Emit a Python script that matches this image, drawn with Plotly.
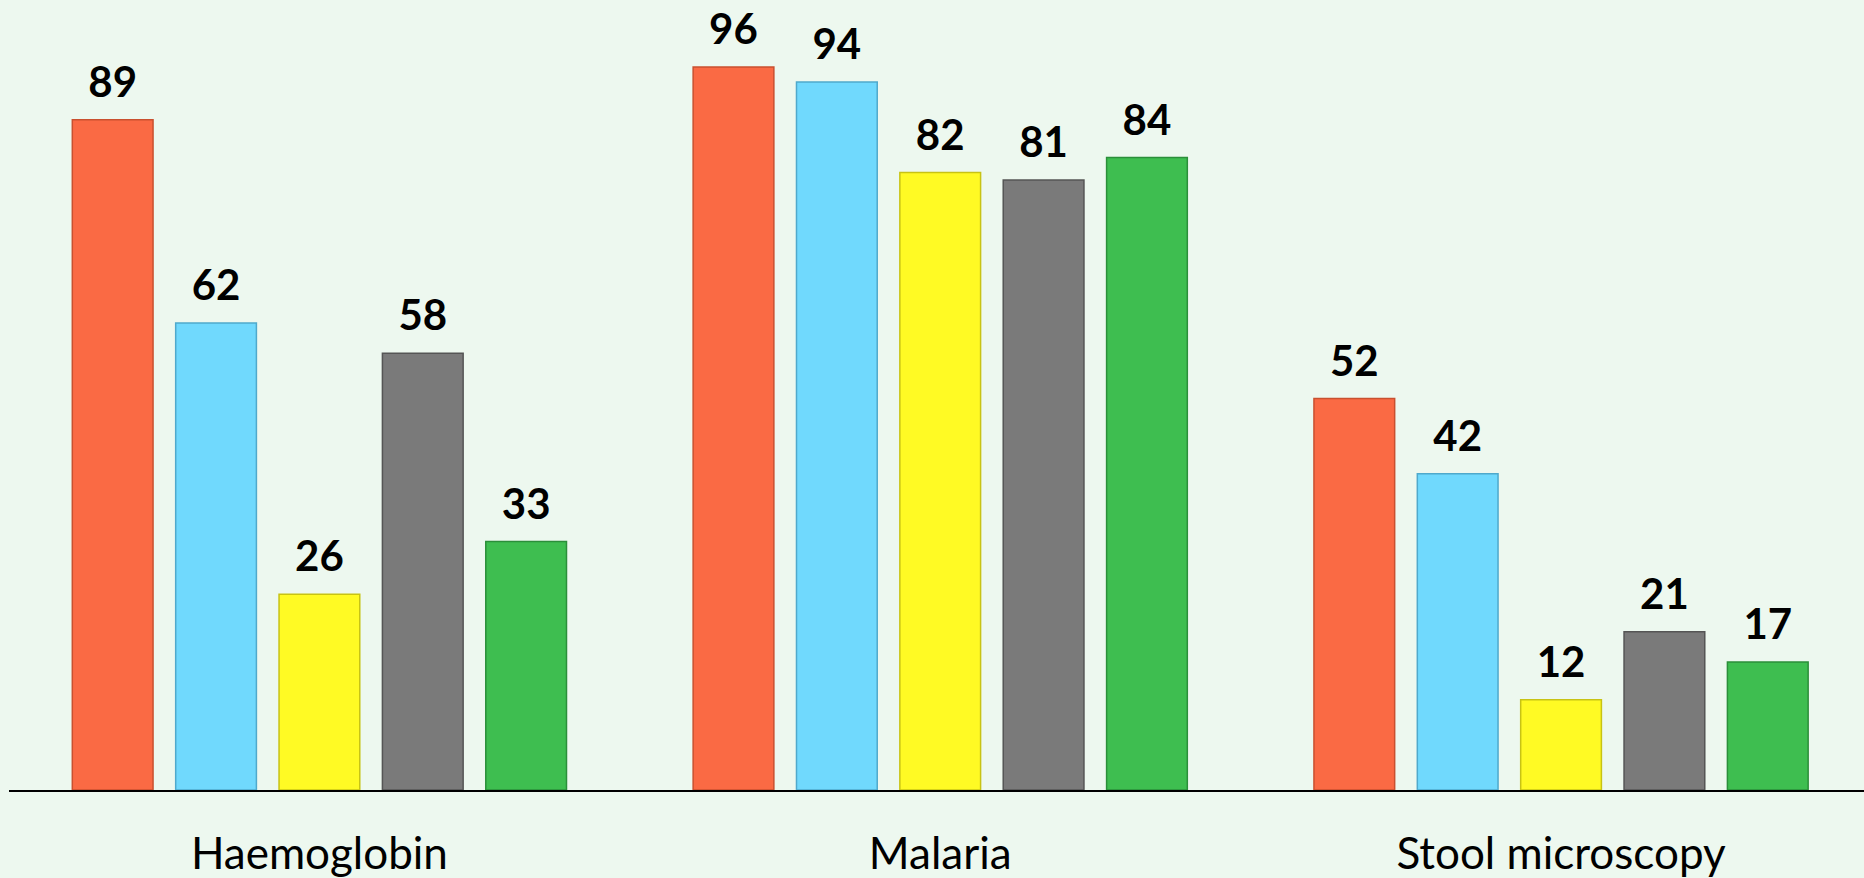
import plotly.graph_objects as go

# data
tests = ["Haemoglobin", "Malaria", "Stool microscopy"]
series_names = ["Series 1", "Series 2", "Series 3", "Series 4", "Series 5"]
series_1 = [89, 96, 52]
series_2 = [62, 94, 42]
series_3 = [26, 82, 12]
series_4 = [58, 81, 21]
series_5 = [33, 84, 17]

colors = ["#FA6A44", "#70D9FD", "#FFFA24", "#7A7A7A", "#3EBE50"]
edges = ["#C9502F", "#4FA9CC", "#C8C314", "#555555", "#2B8F3A"]

all_series = [series_1, series_2, series_3, series_4, series_5]

fig = go.Figure()

# bars
for name, vals, col, edge in zip(series_names, all_series, colors, edges):
    fig.add_trace(go.Bar(
        x=tests, y=vals, name=name, offsetgroup=name,
        marker=dict(color=col, line=dict(color=edge, width=1.5)),
        hoverinfo="x+y+name",
    ))

# value labels, grouped the same way as the bars
for name, vals in zip(series_names, all_series):
    fig.add_trace(go.Scatter(
        x=tests, y=vals, offsetgroup=name, mode="markers+text",
        text=[str(v) for v in vals], textposition="top center",
        textfont=dict(family="Lato", size=42, color="#000000", weight="bold"),
        marker=dict(size=18, opacity=0),
        cliponaxis=False,
        hoverinfo="skip", showlegend=False,
    ))

fig.update_layout(
    width=1864, height=878,
    margin=dict(l=9, r=0, t=0, b=85),
    paper_bgcolor="#EDF8EF",
    plot_bgcolor="#EDF8EF",
    barmode="group",
    bargap=0.1675,
    bargroupgap=0.219,
    scattermode="group",
    scattergap=0.1675,
    showlegend=False,
    xaxis=dict(
        range=[-0.5, 2.488],
        showline=True, linecolor="#000000", linewidth=1.5,
        ticks="", showgrid=False, zeroline=False,
        tickfont=dict(family="Lato", size=44, color="#000000"),
        ticklabelstandoff=24,
    ),
    yaxis=dict(
        range=[0, 104.9],
        visible=False, showgrid=False, zeroline=False,
    ),
)

# drop the page's default body margin so the chart fills the window
fig.write_html("out.html", config={"displayModeBar": False},
               post_script="document.body.style.margin='0';")
